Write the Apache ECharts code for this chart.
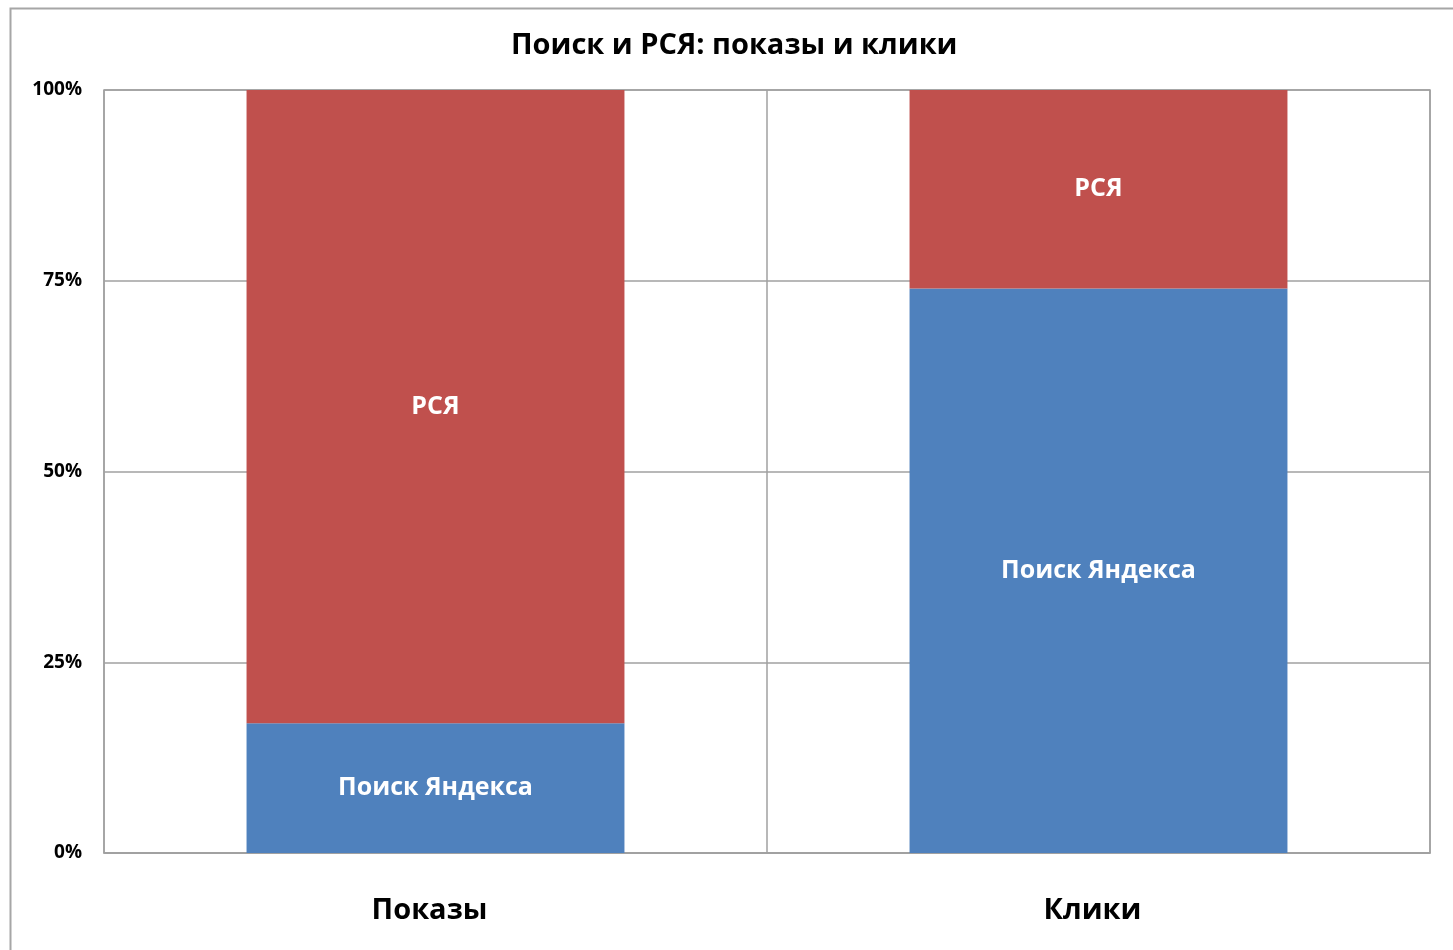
<!DOCTYPE html>
<html>
<head>
<meta charset="utf-8">
<script src="https://cdn.jsdelivr.net/npm/echarts@6/dist/echarts.min.js"></script>
<style>
  html, body { margin: 0; padding: 0; background: #fff; }
  #chart { width: 1453px; height: 950px; }
</style>
</head>
<body>
<div id="chart"></div>
<script>
var categories = ['Показы', 'Клики'];
var searchShare = [17, 74];
var networkShare = [83, 26];
var yTicks = ['0%', '25%', '50%', '75%', '100%'];

var fontName = '"Open Sans", "Noto Sans", sans-serif';

var chart = echarts.init(document.getElementById('chart'));

var option = {
    backgroundColor: '#fff',
    animation: false,
    title: {
        text: 'Поиск и РСЯ: показы и клики',
        left: 506,
        top: 26,
        textStyle: { fontFamily: fontName, fontWeight: 'bold', fontSize: 29, color: '#000' }
    },
    graphic: [{
        type: 'rect',
        left: 8, top: 6,
        shape: { width: 1470, height: 970 },
        style: { fill: 'none', stroke: '#a6a6a6', lineWidth: 2 },
        silent: true
    }],
    grid: {
        left: 104, right: 23, top: 90, bottom: 97,
        show: true, borderColor: '#a0a0a0', borderWidth: 1.5
    },
    xAxis: {
        type: 'category',
        data: categories,
        axisLine: { show: true, lineStyle: { color: '#a0a0a0', width: 1.5 } },
        axisTick: { show: false },
        splitLine: { show: true, lineStyle: { color: '#a0a0a0', width: 1.5 } },
        axisLabel: {
            margin: 43, padding: [0, 12, 0, 0],
            fontFamily: fontName, fontWeight: 'bold', fontSize: 29, color: '#000'
        }
    },
    yAxis: {
        type: 'value',
        min: 0, max: 100, interval: 25,
        axisLine: { show: false },
        axisTick: { show: false },
        splitLine: { lineStyle: { color: '#a0a0a0', width: 1.5 } },
        axisLabel: {
            margin: 22, fontFamily: fontName, fontWeight: 'bold', fontSize: 19, color: '#000',
            formatter: function (v) { return yTicks[v / 25]; }
        }
    },
    series: [{
        name: 'Поиск Яндекса',
        type: 'bar',
        stack: 'total',
        barWidth: '57%',
        data: searchShare,
        itemStyle: { color: '#4F81BD' },
        label: {
            show: true, position: 'inside', formatter: '{a}',
            fontFamily: fontName, fontWeight: 'bold', fontSize: 25, color: '#fff'
        }
    }, {
        name: 'РСЯ',
        type: 'bar',
        stack: 'total',
        data: networkShare,
        itemStyle: { color: '#C0504D' },
        label: {
            show: true, position: 'inside', formatter: '{a}',
            fontFamily: fontName, fontWeight: 'bold', fontSize: 25, color: '#fff'
        }
    }]
};

chart.setOption(option);
</script>
</body>
</html>
